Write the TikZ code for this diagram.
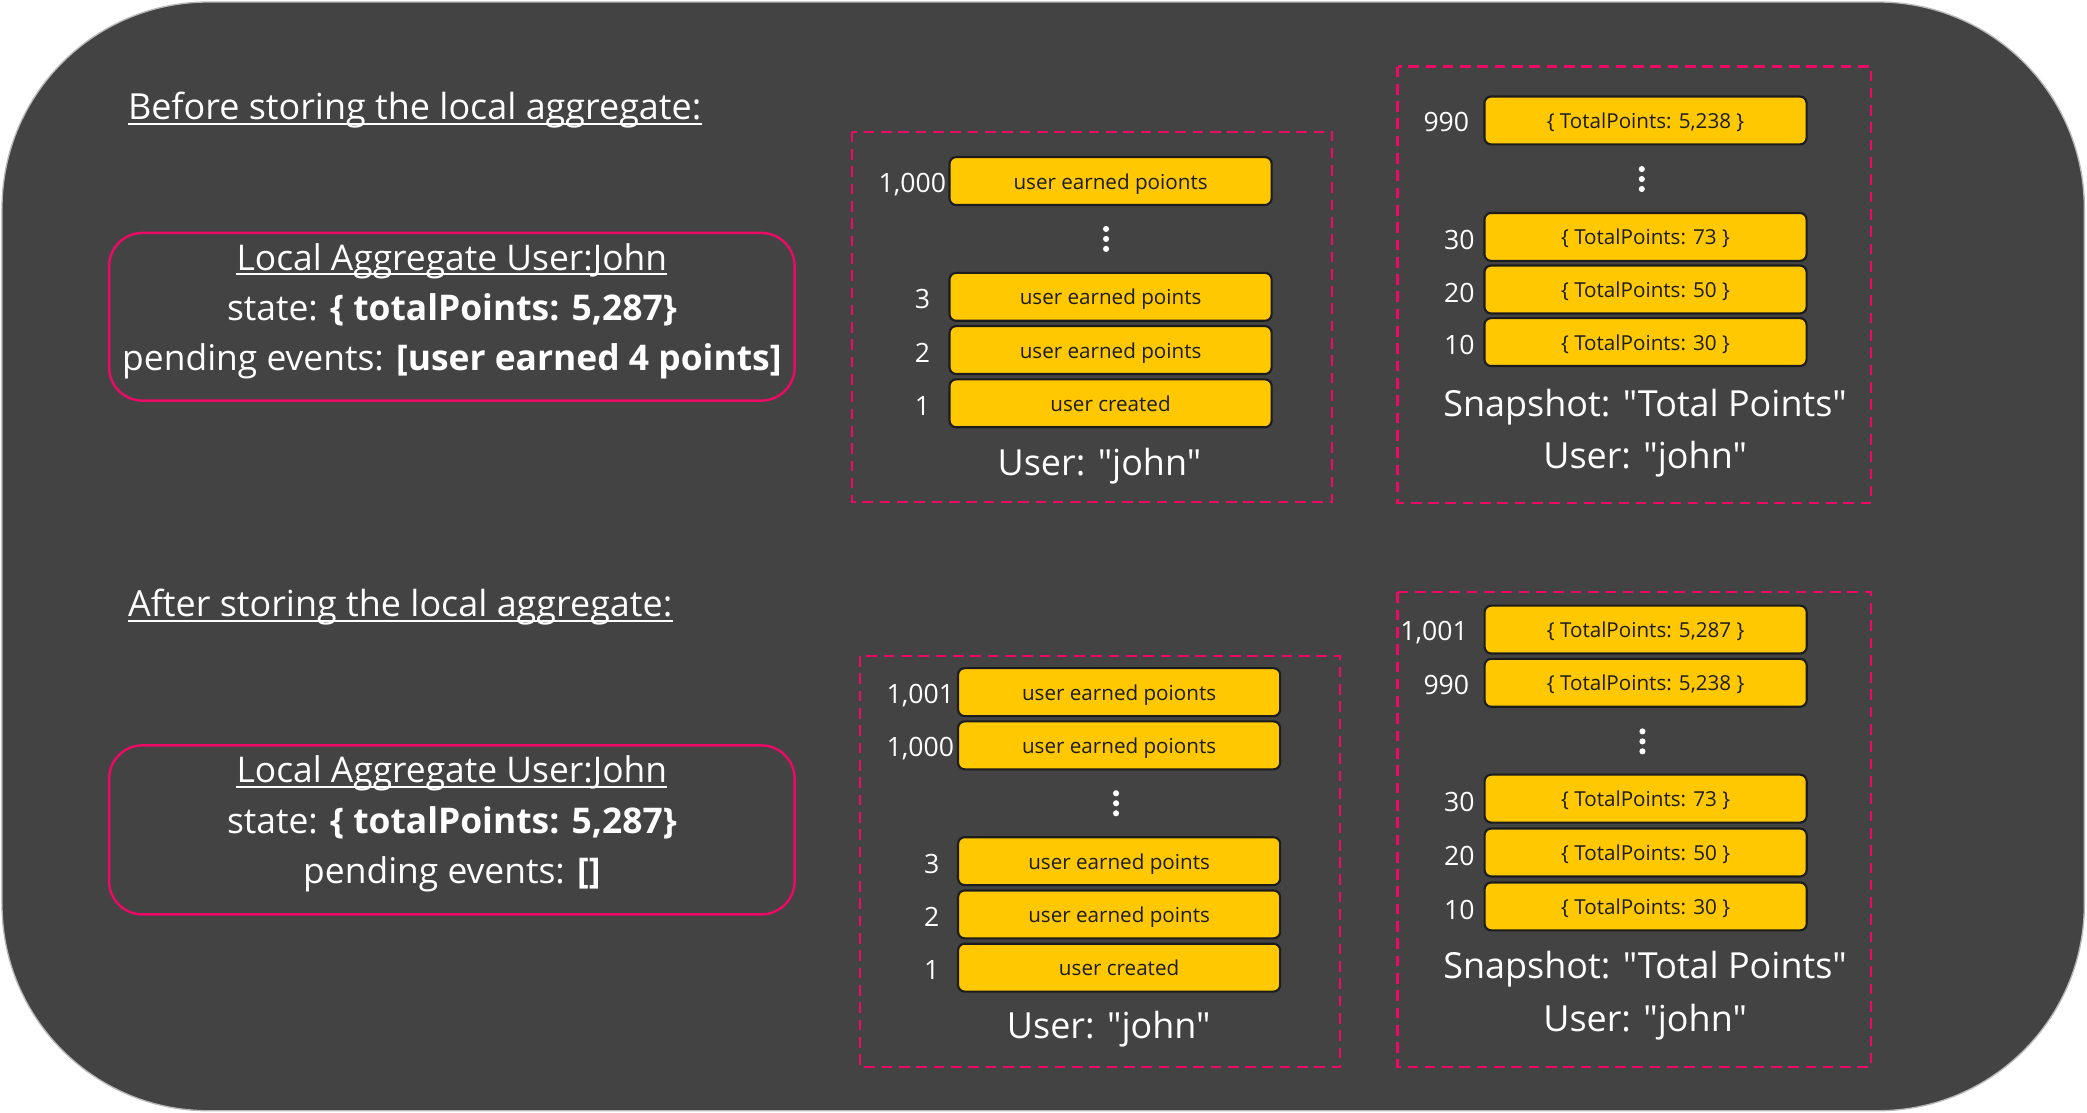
\documentclass[tikz,border=0pt]{standalone}
\usepackage{fontspec}
\setmainfont{Open Sans}[Ligatures=TeXOff]
\definecolor{bgc}{HTML}{434343}
\definecolor{pinkc}{HTML}{EC0A64}
\definecolor{yboxc}{HTML}{FFC800}
\definecolor{ylinec}{HTML}{1C1C1C}
\definecolor{outerc}{HTML}{B8B8B8}
\tikzset{
  ybox/.style={draw=ylinec, fill=yboxc, line width=1.6pt, rounded corners=5pt,
    minimum width=242pt, minimum height=36pt, inner sep=0pt, text height=15pt, text depth=3pt,
    text=ylinec, font=\fontsize{15.5}{18}\selectfont},
  frame/.style={draw=pinkc, line width=1.6pt, dash pattern=on 8pt off 5pt},
  agg/.style={draw=pinkc, line width=1.8pt, rounded corners=25pt},
  big/.style={text=white, font=\fontsize{27}{32}\selectfont, inner sep=0pt, anchor=base},
  aggtext/.style={text=white, font=\fontsize{26.6}{32}\selectfont, inner sep=0pt, anchor=base},
  num/.style={text=white, font=\fontsize{20}{24}\selectfont, inner sep=0pt, anchor=base east},
  dotc/.style={circle, fill=white, inner sep=0pt, minimum size=4.6pt},
  uline/.style={white, line width=1.4pt},
}
\begin{document}
\begin{tikzpicture}[x=1pt, y=-1pt]
\useasboundingbox (0,0) rectangle (1568,836);
\fill[white] (0,0) rectangle (1568,836);
\draw[fill=bgc, draw=outerc, line width=1pt, rounded corners=155pt] (1.5,1.5) rectangle (1566,834.5);

% ---------- titles ----------
\node[big, anchor=base west] (t1) at (96,90) {Before storing the local aggregate:};
\draw[uline] ([yshift=-3pt]t1.base west) -- ([yshift=-3pt]t1.base east);
\node[big, anchor=base west] (t2) at (96,463.5) {After storing the local aggregate:};
\draw[uline] ([yshift=-3pt]t2.base west) -- ([yshift=-3pt]t2.base east);

% ---------- local aggregate boxes ----------
\draw[agg] (82,175) rectangle (597,301);
\node[aggtext] (la1) at (339.5,203) {Local Aggregate User:John};
\draw[uline] ([yshift=-3pt]la1.base west) -- ([yshift=-3pt]la1.base east);
\node[aggtext] (st1) at (339.5,240.5) {state: \textbf{\{ totalPoints: 5,287\}}};
\node[aggtext] (pe1) at (339.5,278) {pending events: \textbf{[user earned 4 points]}};

\draw[agg] (82,560) rectangle (597,687);
\node[aggtext] (la2) at (339.5,588) {Local Aggregate User:John};
\draw[uline] ([yshift=-3pt]la2.base west) -- ([yshift=-3pt]la2.base east);
\node[aggtext] (st2) at (339.5,626) {state: \textbf{\{ totalPoints: 5,287\}}};
\node[aggtext] (pe2) at (339.5,663.5) {pending events: \textbf{[]}};

% ---------- top event stream ----------
\draw[frame] (640,99) rectangle (1001,377);
\node[ybox] (a1000) at (834.4,136) {user earned poionts};
\node[ybox] (a3) at (834.4,223) {user earned points};
\node[ybox] (a2) at (834.4,263) {user earned points};
\node[ybox] (a1) at (834.4,303) {user created};
\node[num] (na1000) at (711,144.5) {1,000};
\node[num] (na3) at (699,232) {3};
\node[num] (na2) at (699,272) {2};
\node[num] (na1) at (699,312) {1};
\node[dotc] (ad1) at (831,172) {};
\node[dotc] (ad2) at (831,179.5) {};
\node[dotc] (ad3) at (831,187) {};
\node[big] (au) at (826,357) {User: "john"};

% ---------- top snapshots ----------
\draw[frame] (1050,50) rectangle (1406,378);
\node[ybox] (s990) at (1236.3,90.5) {\{ TotalPoints: 5,238 \}};
\node[ybox] (s30) at (1236.3,178) {\{ TotalPoints: 73 \}};
\node[ybox] (s20) at (1236.3,217.5) {\{ TotalPoints: 50 \}};
\node[ybox] (s10) at (1236.3,257) {\{ TotalPoints: 30 \}};
\node[num] (ns990) at (1104,99) {990};
\node[num] (ns30) at (1108,187.5) {30};
\node[num] (ns20) at (1108,227) {20};
\node[num] (ns10) at (1108,266.5) {10};
\node[dotc] (sd1) at (1233.5,127) {};
\node[dotc] (sd2) at (1233.5,134.5) {};
\node[dotc] (sd3) at (1233.5,142) {};
\node[big] (ss) at (1236,313) {Snapshot: "Total Points"};
\node[big] (su) at (1236,352) {User: "john"};

% ---------- bottom event stream ----------
\draw[frame] (646,493) rectangle (1007,801.5);
\node[ybox] (b1001) at (840.8,520) {user earned poionts};
\node[ybox] (b1000) at (840.8,560) {user earned poionts};
\node[ybox] (b3) at (840.8,647) {user earned points};
\node[ybox] (b2) at (840.8,687) {user earned points};
\node[ybox] (b1) at (840.8,727) {user created};
\node[num] (nb1001) at (717,528.5) {1,001};
\node[num] (nb1000) at (717,568.5) {1,000};
\node[num] (nb3) at (706,656) {3};
\node[num] (nb2) at (706,696) {2};
\node[num] (nb1) at (706,736) {1};
\node[dotc] (bd1) at (838.5,596) {};
\node[dotc] (bd2) at (838.5,603.5) {};
\node[dotc] (bd3) at (838.5,611) {};
\node[big] (bu) at (833,780) {User: "john"};

% ---------- bottom snapshots ----------
\draw[frame] (1050,445) rectangle (1406,801.5);
\node[ybox] (r1001) at (1236.4,473) {\{ TotalPoints: 5,287 \}};
\node[ybox] (r990) at (1236.4,513) {\{ TotalPoints: 5,238 \}};
\node[ybox] (r30) at (1236.4,600) {\{ TotalPoints: 73 \}};
\node[ybox] (r20) at (1236.4,640.5) {\{ TotalPoints: 50 \}};
\node[ybox] (r10) at (1236.4,681) {\{ TotalPoints: 30 \}};
\node[num] (nr1001) at (1103,481.5) {1,001};
\node[num] (nr990) at (1104,521.5) {990};
\node[num] (nr30) at (1108,609.5) {30};
\node[num] (nr20) at (1108,650) {20};
\node[num] (nr10) at (1108,690.5) {10};
\node[dotc] (rd1) at (1234,549.5) {};
\node[dotc] (rd2) at (1234,557) {};
\node[dotc] (rd3) at (1234,564.5) {};
\node[big] (rs) at (1236,735) {Snapshot: "Total Points"};
\node[big] (ru) at (1236,775) {User: "john"};
\end{tikzpicture}
\end{document}
